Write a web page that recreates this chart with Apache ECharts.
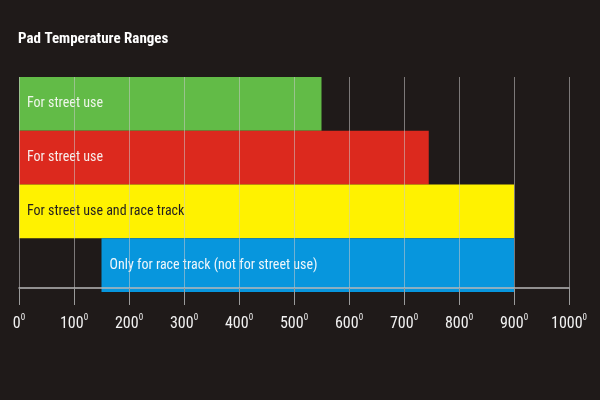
<!DOCTYPE html>
<html>
<head>
<meta charset="utf-8">
<script src="https://cdn.jsdelivr.net/npm/echarts@6/dist/echarts.min.js"></script>
<style>html,body{margin:0;padding:0;background:#1f1a19;}#c{width:600px;height:400px;}</style>
</head>
<body>
<div id="c"></div>
<script>
const titleText = 'Pad Temperature Ranges';
const categories = ['For street use', 'For street use', 'For street use and race track', 'Only for race track (not for street use)'];
const rangeStart = [0, 0, 0, 150];
const rangeEnd = [550, 745, 900, 900];
const tickValues = [0, 100, 200, 300, 400, 500, 600, 700, 800, 900, 1000];
const degreeMark = '0';

const barColors = ['#62bb47', '#dc291e', '#fff200', '#0796dd'];
const labelColors = ['#eef6ea', '#f8ecea', '#231f20', '#eef6fb'];
const FONT = 'Roboto, "Open Sans", sans-serif';

const chart = echarts.init(document.getElementById('c'));
chart.setOption({
  backgroundColor: '#1f1a19',
  animation: false,
  title: {
    text: titleText, left: 13, top: 27,
    textStyle: { color: '#ffffff', fontFamily: FONT, fontWeight: 'condensed bold', fontSize: 15 }
  },
  grid: { left: 19, right: 31, top: 77, bottom: 108, containLabel: false },
  xAxis: {
    type: 'value', min: tickValues[0], max: tickValues[tickValues.length - 1], interval: 100,
    offset: -4, z: 5,
    axisLine: { show: true, lineStyle: { color: '#b8b8b8', width: 1.5 } },
    axisTick: { show: true, length: 17, lineStyle: { color: '#9a9a9a', width: 1 } },
    splitLine: { show: true, lineStyle: { color: 'rgba(200,200,200,0.55)', width: 1 } },
    axisLabel: {
      margin: 25, color: '#f2f2f2',
      formatter: v => '{n|' + v + '}{d|' + degreeMark + '}',
      rich: {
        n: { fontFamily: FONT, fontWeight: 'condensed normal', fontSize: 16, color: '#f2f2f2', lineHeight: 22 },
        d: { fontFamily: FONT, fontWeight: 'condensed normal', fontSize: 9, color: '#f2f2f2', verticalAlign: 'top', lineHeight: 22, padding: [0, 0, 10, 0] }
      }
    }
  },
  yAxis: {
    type: 'category', data: categories, inverse: true,
    axisLine: { show: false }, axisTick: { show: false }, axisLabel: { show: false }, splitLine: { show: false }
  },
  series: [
    {
      type: 'bar', stack: 'r', barCategoryGap: 0, silent: true,
      itemStyle: { color: 'transparent' },
      data: rangeStart
    },
    {
      type: 'bar', stack: 'r', barCategoryGap: 0,
      data: rangeEnd.map((e, i) => ({
        value: e - rangeStart[i],
        itemStyle: { color: barColors[i] },
        label: { color: labelColors[i] }
      })),
      label: {
        show: true, position: 'insideLeft', distance: 8,
        fontFamily: FONT, fontWeight: 'condensed normal', fontSize: 14,
        formatter: p => categories[p.dataIndex]
      }
    }
  ]
});
</script>
</body>
</html>
